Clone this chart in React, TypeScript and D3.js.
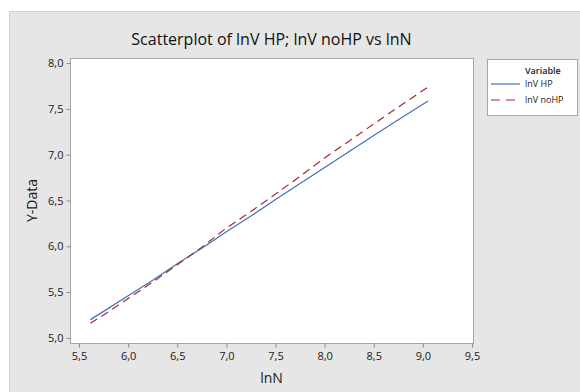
import React, { useEffect, useRef } from "react";
import * as d3 from "d3";

const xValues = [5.615, 5.75, 6.0, 6.25, 6.5, 6.75, 7.0, 7.25, 7.5, 7.75, 8.0, 8.25, 8.5, 8.75, 9.0, 9.055];
const hpValues = [5.2, 5.29, 5.46, 5.63, 5.81, 5.98, 6.16, 6.33, 6.51, 6.685, 6.86, 7.035, 7.21, 7.38, 7.55, 7.585];
const noHpValues = [5.16, 5.25, 5.43, 5.61, 5.8, 5.99, 6.2, 6.38, 6.57, 6.765, 6.965, 7.15, 7.335, 7.52, 7.7, 7.74];
const xTicks = [5.5, 6.0, 6.5, 7.0, 7.5, 8.0, 8.5, 9.0, 9.5];
const yTicks = [5.0, 5.5, 6.0, 6.5, 7.0, 7.5, 8.0];
const seriesNames = ["lnV HP", "lnV noHP"];

const W = 580;
const H = 392;
const plot = { left: 70, top: 58, right: 473, bottom: 343 };
const FONT = "'Open Sans', 'Noto Sans', sans-serif";
const fmt = (v: number) => v.toFixed(1).replace(".", ",");

export default function App() {
  const ref = useRef<SVGSVGElement>(null);

  useEffect(() => {
    const svg = d3.select(ref.current);
    svg.selectAll("*").remove();

    const x = d3.scaleLinear().domain([5.408, 9.51]).range([plot.left, plot.right]);
    const y = d3.scaleLinear().domain([4.945, 8.055]).range([plot.bottom, plot.top]);

    // outer panel
    svg.append("rect").attr("x", 0).attr("y", 0).attr("width", W).attr("height", H).attr("fill", "#ffffff");
    svg.append("rect").attr("x", 9.5).attr("y", 11.5).attr("width", W).attr("height", H)
      .attr("fill", "#e6e6e6").attr("stroke", "#cfcfcf");

    // plot area
    svg.append("rect").attr("x", plot.left + 0.5).attr("y", plot.top + 0.5)
      .attr("width", plot.right - plot.left).attr("height", plot.bottom - plot.top)
      .attr("fill", "#ffffff").attr("stroke", "#a6a6a6");

    // title
    svg.append("text").attr("x", (plot.left + plot.right) / 2).attr("y", 45)
      .attr("text-anchor", "middle").attr("font-family", FONT).attr("font-size", 16)
      .attr("font-weight", 500)
      .attr("fill", "#111").text("Scatterplot of lnV HP; lnV noHP vs lnN");

    // x axis
    const xAxis = svg.append("g").attr("transform", `translate(0,${plot.bottom + 0.5})`)
      .call(d3.axisBottom(x).tickValues(xTicks).tickSize(4).tickFormat((d: any) => fmt(d)));
    xAxis.select(".domain").remove();
    xAxis.selectAll("line").attr("stroke", "#8a8a8a");
    xAxis.selectAll("text").attr("font-family", FONT).attr("font-size", 11).attr("fill", "#1a1a1a").attr("dy", "0.85em");

    // y axis
    const yAxis = svg.append("g").attr("transform", `translate(${plot.left + 0.5},0)`)
      .call(d3.axisLeft(y).tickValues(yTicks).tickSize(4).tickFormat((d: any) => fmt(d)));
    yAxis.select(".domain").remove();
    yAxis.selectAll("line").attr("stroke", "#8a8a8a");
    yAxis.selectAll("text").attr("font-family", FONT).attr("font-size", 11).attr("fill", "#1a1a1a").attr("x", -7);

    // axis labels
    svg.append("text").attr("x", (plot.left + plot.right) / 2).attr("y", 383)
      .attr("text-anchor", "middle").attr("font-family", FONT).attr("font-size", 14)
      .attr("fill", "#1a1a1a").text("lnN");
    svg.append("text").attr("transform", `translate(37,${(plot.top + plot.bottom) / 2}) rotate(-90)`)
      .attr("text-anchor", "middle").attr("font-family", FONT).attr("font-size", 14)
      .attr("fill", "#1a1a1a").text("Y-Data");

    const line = d3.line<number>().x((_, i) => x(xValues[i]));

    svg.append("path").datum(hpValues)
      .attr("d", line.y((d) => y(d)) as any)
      .attr("fill", "none").attr("stroke", "#3f72b9").attr("stroke-width", 1.2);
    svg.append("path").datum(noHpValues)
      .attr("d", line.y((d) => y(d)) as any)
      .attr("fill", "none").attr("stroke", "#a52a2a").attr("stroke-width", 1.2)
      .attr("stroke-dasharray", "8,5");

    // legend
    const lg = svg.append("g");
    lg.append("rect").attr("x", 487.5).attr("y", 59.5).attr("width", 90).attr("height", 56)
      .attr("fill", "#ffffff").attr("stroke", "#a6a6a6");
    lg.append("text").attr("x", 525).attr("y", 74).attr("font-family", FONT).attr("font-size", 9)
      .attr("font-weight", 600).attr("fill", "#222").text("Variable");
    const colors = ["#3f72b9", "#a52a2a"];
    const dashes = [null, "9,6"];
    seriesNames.forEach((name, i) => {
      const yy = 84 + i * 16;
      lg.append("line").attr("x1", 491).attr("x2", 520).attr("y1", yy).attr("y2", yy)
        .attr("stroke", colors[i]).attr("stroke-width", 1.2)
        .attr("stroke-dasharray", dashes[i] as any);
      lg.append("text").attr("x", 525).attr("y", yy + 3.2).attr("font-family", FONT)
        .attr("font-size", 9).attr("fill", "#222").text(name);
    });
  }, []);

  return (
    <svg ref={ref} width={W} height={H}
      style={{ position: "absolute", left: 0, top: 0, display: "block" }} />
  );
}
